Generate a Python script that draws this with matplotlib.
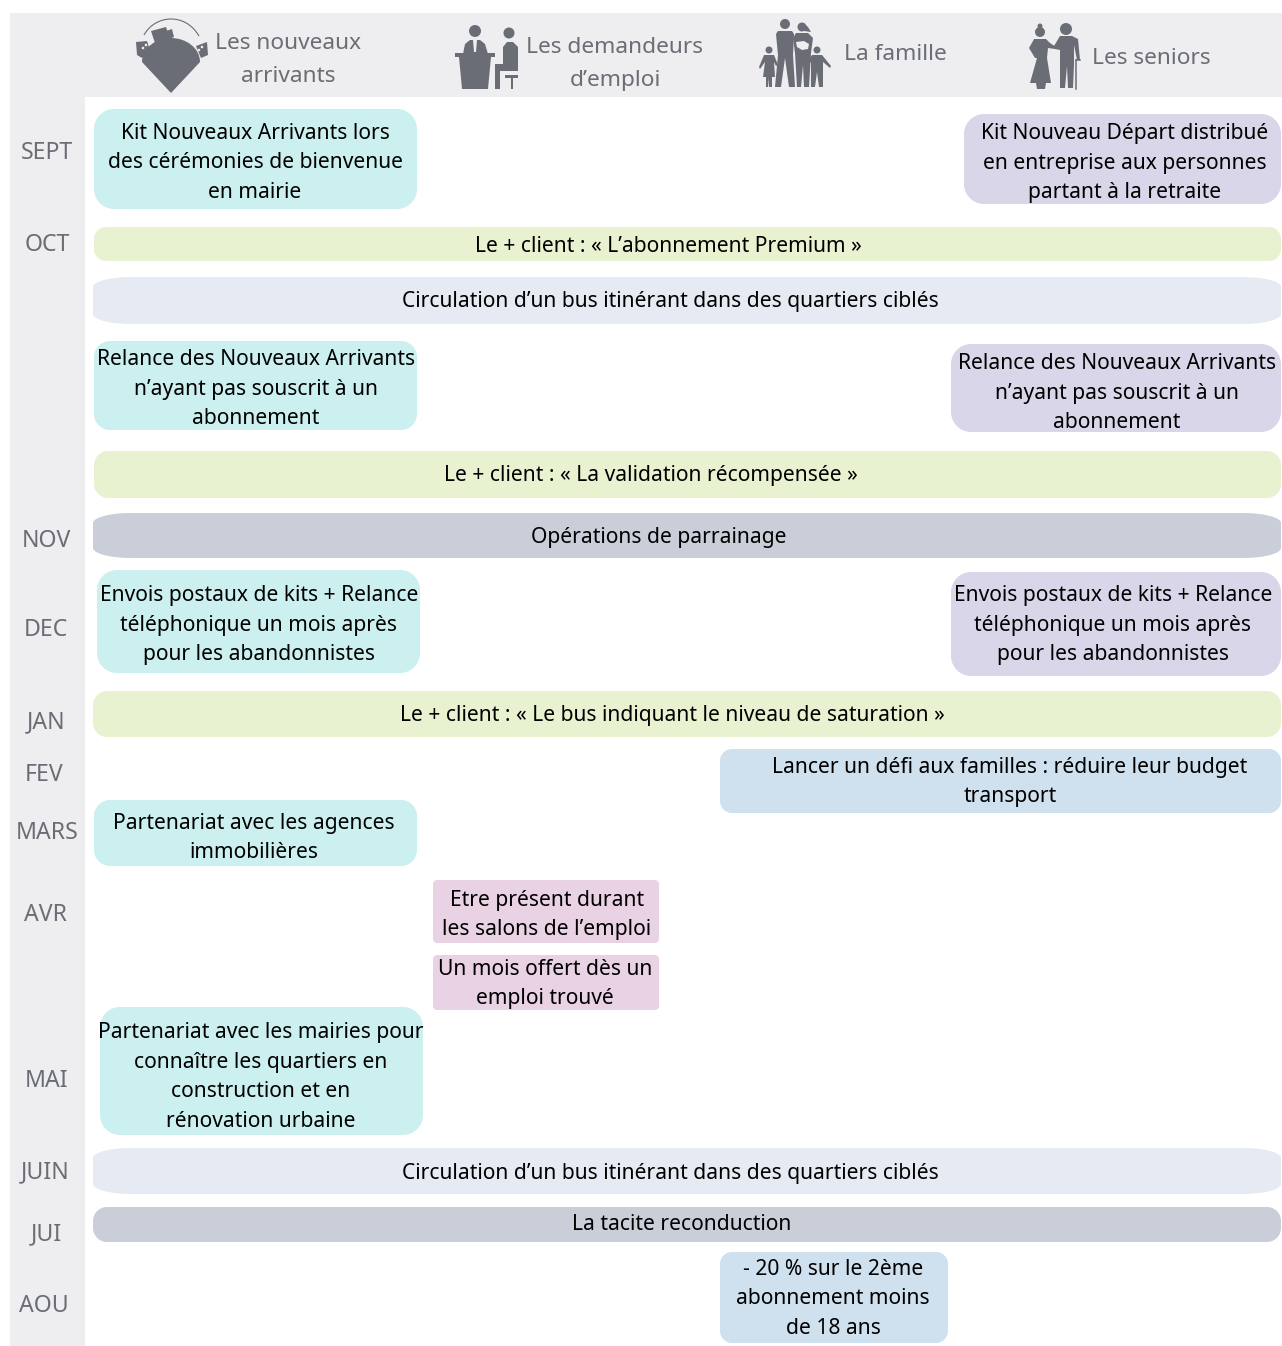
import matplotlib
matplotlib.use("Agg")
import matplotlib.pyplot as plt
from matplotlib.patches import PathPatch, Circle, Polygon, Rectangle
from matplotlib.path import Path

W, H = 1282, 1346
FONT = "Noto Sans"

TEAL = "#ccefef"
LAVENDER = "#d8d6e8"
GREEN = "#e8f2d0"
PALE = "#e6eaf2"
SLATE = "#c9ced9"
BLUE = "#cfe0ef"
PINK = "#ead2e5"
BAND = "#eeeef0"
GREY = "#6a6d75"

months = ["SEPT", "OCT", "NOV", "DEC", "JAN", "FEV", "MARS", "AVR", "MAI", "JUIN", "JUI", "AOU"]
month_x = [47, 47, 46, 46, 46, 44, 47, 46, 47, 45, 46, 44]
month_y = [151, 243, 539, 628, 720, 773, 831, 913, 1079, 1170, 1232, 1304]

audiences = ["Les nouveaux\narrivants", "Les demandeurs\nd\u2019emploi", "La famille", "Les seniors"]
audience_x = [288, 615, 895, 1151]
audience_y = [58, 62, 53, 56]

actions = [
    "Kit Nouveaux Arrivants lors\ndes c\u00e9r\u00e9monies de bienvenue\nen mairie",
    "Kit Nouveau D\u00e9part distribu\u00e9\nen entreprise aux personnes\npartant \u00e0 la retraite",
    "Le + client : \u00ab L\u2019abonnement Premium \u00bb",
    "Circulation d\u2019un bus itin\u00e9rant dans des quartiers cibl\u00e9s",
    "Relance des Nouveaux Arrivants\nn\u2019ayant pas souscrit \u00e0 un\nabonnement",
    "Relance des Nouveaux Arrivants\nn\u2019ayant pas souscrit \u00e0 un\nabonnement",
    "Le + client : \u00ab La validation r\u00e9compens\u00e9e \u00bb",
    "Op\u00e9rations de parrainage",
    "Envois postaux de kits + Relance\nt\u00e9l\u00e9phonique un mois apr\u00e8s\npour les abandonnistes",
    "Envois postaux de kits + Relance\nt\u00e9l\u00e9phonique un mois apr\u00e8s\npour les abandonnistes",
    "Le + client : \u00ab Le bus indiquant le niveau de saturation \u00bb",
    "Lancer un d\u00e9fi aux familles : r\u00e9duire leur budget\ntransport",
    "Partenariat avec les agences\nimmobili\u00e8res",
    "Etre pr\u00e9sent durant\nles salons de l\u2019emploi",
    "Un mois offert d\u00e8s un\nemploi trouv\u00e9",
    "Partenariat avec les mairies pour\nconna\u00eetre les quartiers en\nconstruction et en\nr\u00e9novation urbaine",
    "Circulation d\u2019un bus itin\u00e9rant dans des quartiers cibl\u00e9s",
    "La tacite reconduction",
    "- 20 % sur le 2\u00e8me\nabonnement moins\nde 18 ans",
]

# x0, y0, x1, y1, corner rx, corner ry, colour, text x, text y
layout = [
    (94, 109, 417, 209, 20, 20, TEAL, 255, 161),
    (964, 114, 1281, 204, 20, 20, LAVENDER, 1125, 161),
    (94, 227, 1281, 261, 12, 12, GREEN, 668, 244),
    (93, 277, 1281, 324, 38, 10, PALE, 670, 300),
    (94, 341, 417, 430, 16, 16, TEAL, 256, 387),
    (951, 344, 1281, 432, 20, 20, LAVENDER, 1117, 391),
    (94, 451, 1281, 498, 14, 14, GREEN, 651, 474),
    (93, 513, 1281, 558, 38, 10, SLATE, 659, 536),
    (97, 570, 420, 673, 20, 20, TEAL, 259, 623),
    (951, 572, 1281, 676, 20, 20, LAVENDER, 1113, 623),
    (93, 691, 1281, 737, 14, 14, GREEN, 672, 714),
    (720, 749, 1281, 813, 12, 12, BLUE, 1010, 780),
    (94, 800, 417, 866, 16, 16, TEAL, 254, 836),
    (433, 880, 659, 943, 4, 4, PINK, 547, 913),
    (433, 955, 659, 1010, 4, 4, PINK, 545, 982),
    (100, 1007, 423, 1135, 20, 20, TEAL, 261, 1075),
    (93, 1148, 1281, 1194, 38, 10, PALE, 670, 1171),
    (93, 1207, 1281, 1242, 14, 14, SLATE, 682, 1223),
    (720, 1252, 948, 1343, 12, 12, BLUE, 833, 1297),
]


def rounded_box(ax, x0, y0, x1, y1, rx, ry, color):
    k = 0.45
    verts = [
        (x0 + rx, y0), (x1 - rx, y0),
        (x1 - rx * k, y0), (x1, y0 + ry * k), (x1, y0 + ry),
        (x1, y1 - ry),
        (x1, y1 - ry * k), (x1 - rx * k, y1), (x1 - rx, y1),
        (x0 + rx, y1),
        (x0 + rx * k, y1), (x0, y1 - ry * k), (x0, y1 - ry),
        (x0, y0 + ry),
        (x0, y0 + ry * k), (x0 + rx * k, y0), (x0 + rx, y0),
        (x0 + rx, y0),
    ]
    codes = [Path.MOVETO, Path.LINETO,
             Path.CURVE4, Path.CURVE4, Path.CURVE4, Path.LINETO,
             Path.CURVE4, Path.CURVE4, Path.CURVE4, Path.LINETO,
             Path.CURVE4, Path.CURVE4, Path.CURVE4, Path.LINETO,
             Path.CURVE4, Path.CURVE4, Path.CURVE4, Path.CLOSEPOLY]
    ax.add_patch(PathPatch(Path(verts, codes), fc=color, ec="none"))


def poly(ax, pts, color=GREY):
    ax.add_patch(Polygon(pts, closed=True, fc=color, ec="none"))


def head(ax, x, y, r):
    ax.add_patch(Circle((x, y), r, fc=GREY, ec="none"))


def draw_pin(ax):
    outline = Path(
        [(142, 62), (142, 48), (156, 38), (171, 38), (186, 38), (200, 48), (200, 62), (171, 93), (142, 62)],
        [Path.MOVETO, Path.CURVE4, Path.CURVE4, Path.CURVE4, Path.CURVE4, Path.CURVE4, Path.CURVE4,
         Path.LINETO, Path.CLOSEPOLY],
    )
    ax.add_patch(PathPatch(outline, fc=GREY, ec="none"))
    # truck on top
    poly(ax, [(151, 31), (166, 27), (170, 39), (155, 43)])
    poly(ax, [(166, 31), (172, 29), (174, 37), (169, 39)])
    # the two small parcels
    poly(ax, [(136, 42), (147, 41), (150, 50), (142, 58), (137, 55)])
    poly(ax, [(196, 46), (207, 42), (208, 55), (201, 58)])
    for x, y in [(143, 48), (146, 45), (202, 47), (199, 50)]:
        ax.add_patch(Circle((x, y), 1.3, fc=BAND, ec="none"))
    # arc over the pin
    arc = Path([(144, 35), (155, 15), (185, 12), (199, 36)], [Path.MOVETO, Path.CURVE4, Path.CURVE4, Path.CURVE4])
    ax.add_patch(PathPatch(arc, fc="none", ec=GREY, lw=0.8))


def draw_desk(ax):
    head(ax, 475, 31, 6)
    poly(ax, [(463, 54), (465, 44), (470, 40), (480, 40), (485, 44), (488, 54)])
    poly(ax, [(473, 40), (477, 40), (476, 52), (474, 52)], BAND)
    poly(ax, [(455, 53), (495, 53), (495, 57), (491, 57), (488, 89), (462, 89), (459, 57), (455, 57)])
    head(ax, 509, 33, 5.5)
    poly(ax, [(503, 47), (507, 42), (513, 42), (518, 47), (518, 71), (500, 71), (500, 89), (495, 89),
              (495, 64), (503, 64)])
    ax.add_patch(Rectangle((505, 75), 13, 3, fc=GREY, ec="none"))
    ax.add_patch(Rectangle((511, 78), 2, 11, fc=GREY, ec="none"))


def draw_family(ax):
    # father
    head(ax, 785, 24, 5)
    poly(ax, [(778, 31), (792, 31), (794, 34), (793, 55), (795, 87), (789, 87), (785, 58), (781, 87),
              (775, 87), (778, 55), (776, 34)])
    # mother with the baby
    head(ax, 802, 27, 4.5)
    poly(ax, [(803, 23), (808, 27), (811, 32), (804, 31)])
    poly(ax, [(796, 33), (808, 33), (813, 38), (811, 53), (809, 87), (804, 87), (803, 65), (801, 87),
              (797, 87), (795, 53), (793, 38)])
    poly(ax, [(796, 42), (804, 41), (809, 44), (808, 49), (802, 50), (797, 47)], BAND)
    # left child
    head(ax, 769, 50, 3.5)
    poly(ax, [(764, 55), (774, 55), (778, 65), (776, 66), (774, 62), (775, 77), (772, 77), (772, 87),
              (769, 87), (769, 78), (768, 87), (766, 87), (766, 77), (763, 77), (765, 62), (760, 69),
              (759, 67)])
    # right child
    head(ax, 817, 50, 3.5)
    poly(ax, [(812, 55), (822, 55), (831, 66), (830, 68), (823, 62), (823, 87), (819, 87), (817, 72),
              (815, 87), (811, 87), (811, 62), (809, 63), (808, 60)])


def draw_seniors(ax):
    # woman
    head(ax, 1040, 32, 5)
    head(ax, 1040, 26, 2.5)
    poly(ax, [(1034, 39), (1046, 39), (1050, 43), (1056, 47), (1055, 49), (1048, 48), (1047, 58), (1051, 83),
              (1046, 83), (1045, 89), (1037, 89), (1036, 83), (1030, 83), (1037, 58), (1035, 58),
              (1029, 48), (1033, 41)])
    # man, with his cane
    head(ax, 1066, 29, 6)
    poly(ax, [(1060, 36), (1072, 36), (1078, 39), (1080, 60), (1077, 60), (1074, 45), (1074, 65), (1073, 88),
              (1068, 88), (1067, 66), (1065, 88), (1060, 88), (1060, 50), (1055, 49), (1054, 46)])
    ax.plot([1076, 1076], [60, 89], color=GREY, lw=1.1)
    ax.plot([1076, 1080], [60, 60], color=GREY, lw=1.1)


fig = plt.figure(figsize=(W / 100, H / 100), dpi=100)
ax = fig.add_axes([0, 0, 1, 1])
ax.set_xlim(0, W)
ax.set_ylim(H, 0)
ax.axis("off")

ax.add_patch(Rectangle((10, 13), W - 10, 84, fc=BAND, ec="none"))
ax.add_patch(Rectangle((10, 97), 75, H - 97, fc=BAND, ec="none"))

draw_pin(ax)
draw_desk(ax)
draw_family(ax)
draw_seniors(ax)

for label, x, y in zip(audiences, audience_x, audience_y):
    ax.text(x, y + 2, label, family=FONT, fontsize=16.3, color=GREY, ha="center", va="center",
            linespacing=1.72)

for label, x, y in zip(months, month_x, month_y):
    ax.text(x, y + 2, label, family=FONT, fontsize=16.6, color=GREY, ha="center", va="center")

for text, (x0, y0, x1, y1, rx, ry, color, tx, ty) in zip(actions, layout):
    rounded_box(ax, x0, y0, x1, y1, rx, ry, color)
    ax.text(tx, ty + 2, text, family=FONT, fontsize=15.15, weight="medium", color="black",
            ha="center", va="center", linespacing=1.56)

fig.savefig("out.png", dpi=100)
